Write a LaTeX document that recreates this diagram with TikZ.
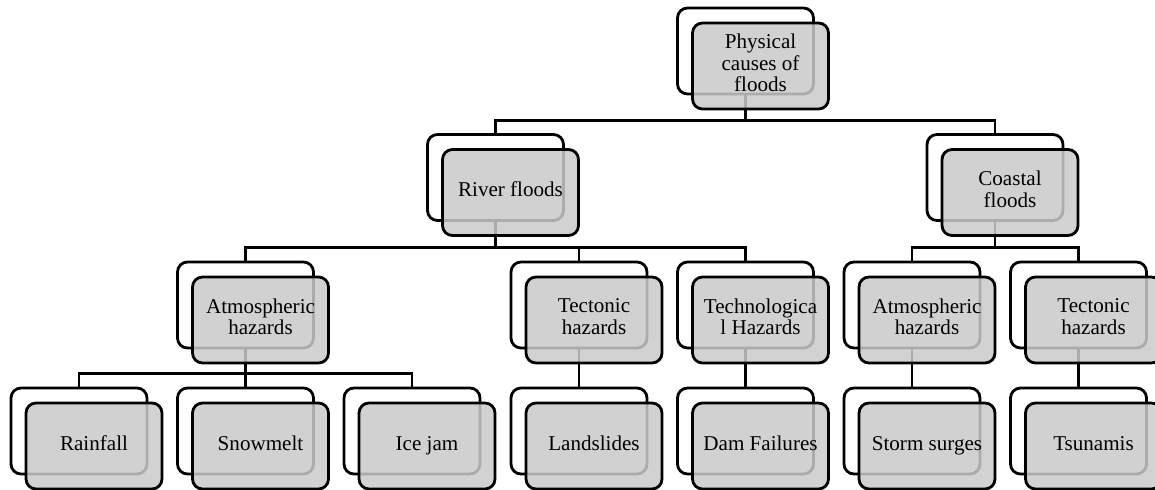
\documentclass[tikz,border=0pt]{standalone}
\usepackage{fontspec}
\setmainfont{Liberation Serif}
\usetikzlibrary{positioning}
\definecolor{boxgray}{RGB}{202,202,202}
\tikzset{
  backbox/.style={rectangle, rounded corners=0.2cm, draw=black, fill=white, line width=1.6pt,
                  minimum width=2.72cm, minimum height=1.72cm, inner sep=0pt},
  frontbox/.style={backbox, fill=boxgray, fill opacity=0.85, text opacity=1,
                   align=center, font=\fontsize{12}{12.3}\selectfont,
                   execute at begin node=\strut, execute at end node=\strut},
  link/.style={line width=1.6pt, draw=black},
}

\begin{document}
\begin{tikzpicture}
  \useasboundingbox (0,0) rectangle (23.1,-9.78);

  % back boxes
  \node[backbox] (topB)   at (14.91,-1.02) {};
  \node[backbox] (riverB) at (9.91,-3.55) {};
  \node[backbox] (coastB) at (19.9,-3.55) {};
  \node[backbox] (atmB)   at (4.91,-6.1) {};
  \node[backbox] (tectB)  at (11.58,-6.1) {};
  \node[backbox] (techB)  at (14.91,-6.1) {};
  \node[backbox] (catmB)  at (18.24,-6.1) {};
  \node[backbox] (ctectB) at (21.57,-6.1) {};
  \node[backbox] (rainB)  at (1.58,-8.62) {};
  \node[backbox] (snowB)  at (4.91,-8.62) {};
  \node[backbox] (iceB)   at (8.24,-8.62) {};
  \node[backbox] (slideB) at (11.58,-8.62) {};
  \node[backbox] (damB)   at (14.91,-8.62) {};
  \node[backbox] (surgeB) at (18.24,-8.62) {};
  \node[backbox] (tsuB)   at (21.57,-8.62) {};

  % connectors
  \draw[link] (topB.south) |- ([yshift=0.26cm]riverB.north) -- (riverB.north);
  \draw[link] (topB.south) |- ([yshift=0.26cm]coastB.north) -- (coastB.north);
  \draw[link] (riverB.south) |- ([yshift=0.27cm]atmB.north) -- (atmB.north);
  \draw[link] (riverB.south) |- ([yshift=0.27cm]tectB.north) -- (tectB.north);
  \draw[link] (riverB.south) |- ([yshift=0.27cm]techB.north) -- (techB.north);
  \draw[link] (coastB.south) |- ([yshift=0.27cm]catmB.north) -- (catmB.north);
  \draw[link] (coastB.south) |- ([yshift=0.27cm]ctectB.north) -- (ctectB.north);
  \draw[link] (atmB.south) |- ([yshift=0.26cm]rainB.north) -- (rainB.north);
  \draw[link] (atmB.south) |- ([yshift=0.26cm]snowB.north) -- (snowB.north);
  \draw[link] (atmB.south) |- ([yshift=0.26cm]iceB.north) -- (iceB.north);
  \draw[link] (tectB.south) -- (slideB.north);
  \draw[link] (techB.south) -- (damB.north);
  \draw[link] (catmB.south) -- (surgeB.north);
  \draw[link] (ctectB.south) -- (tsuB.north);

  % front boxes
  \node[frontbox] (top)   at ([shift={(0.3,-0.3)}]topB.center)   {Physical\\causes of\\floods};
  \node[frontbox] (river) at ([shift={(0.3,-0.3)}]riverB.center) {River floods};
  \node[frontbox] (coast) at ([shift={(0.3,-0.3)}]coastB.center) {Coastal\\floods};
  \node[frontbox] (atm)   at ([shift={(0.3,-0.3)}]atmB.center)   {Atmospheric\\hazards};
  \node[frontbox] (tect)  at ([shift={(0.3,-0.3)}]tectB.center)  {Tectonic\\hazards};
  \node[frontbox] (tech)  at ([shift={(0.3,-0.3)}]techB.center)  {Technologica\\l Hazards};
  \node[frontbox] (catm)  at ([shift={(0.3,-0.3)}]catmB.center)  {Atmospheric\\hazards};
  \node[frontbox] (ctect) at ([shift={(0.3,-0.3)}]ctectB.center) {Tectonic\\hazards};
  \node[frontbox] (rain)  at ([shift={(0.3,-0.3)}]rainB.center)  {Rainfall};
  \node[frontbox] (snow)  at ([shift={(0.3,-0.3)}]snowB.center)  {Snowmelt};
  \node[frontbox] (ice)   at ([shift={(0.3,-0.3)}]iceB.center)   {Ice jam};
  \node[frontbox] (slide) at ([shift={(0.3,-0.3)}]slideB.center) {Landslides};
  \node[frontbox] (dam)   at ([shift={(0.3,-0.3)}]damB.center)   {Dam Failures};
  \node[frontbox] (surge) at ([shift={(0.3,-0.3)}]surgeB.center) {Storm surges};
  \node[frontbox] (tsu)   at ([shift={(0.3,-0.3)}]tsuB.center)   {Tsunamis};
\end{tikzpicture}
\end{document}
